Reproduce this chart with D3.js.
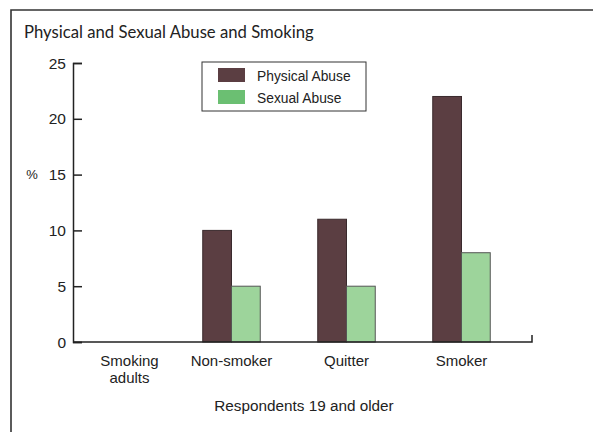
<!DOCTYPE html>
<html>
<head>
<meta charset="utf-8">
<script src="https://cdn.jsdelivr.net/npm/d3@7"></script>
<style>
  html, body { margin: 0; padding: 0; background: #fff; }
  svg { display: block; }
</style>
</head>
<body>
<svg id="chart" width="593" height="432"></svg>
<script>
// Share of respondents (19 and older) reporting abuse, by smoking status
const categories = ["Smoking adults", "Non-smoker", "Quitter", "Smoker"];
const seriesNames = ["Physical Abuse", "Sexual Abuse"];
const physicalAbuse = [null, 10, 11, 22];
const sexualAbuse = [null, 5, 5, 8];
const yTicks = [0, 5, 10, 15, 20, 25];

const barColors = ["#5b3e42", "#9dd49b"];
const legendColors = ["#5b3e42", "#6bbf72"];

const svg = d3.select("#chart");
const axisFont = "'Liberation Sans', Arial, sans-serif";

// outer frame (runs off the right and bottom edges)
svg.append("path")
  .attr("d", "M11,440 L11,10 L600,10")
  .attr("fill", "none")
  .attr("stroke", "#333")
  .attr("stroke-width", 1.6);

svg.append("text")
  .attr("x", 24).attr("y", 38)
  .attr("font-family", "Lato, 'Open Sans', sans-serif")
  .attr("font-size", 16.7)
  .attr("fill", "#222")
  .text("Physical and Sexual Abuse and Smoking");

const x0 = d3.scaleBand().domain(categories).range([59, 519]).paddingInner(0.5).paddingOuter(0.25);
const x1 = d3.scaleBand().domain(seriesNames).range([0, x0.bandwidth()]);
const y = d3.scaleLinear().domain([0, 25]).range([342, 63]);

// y axis with inward ticks
const yAxis = svg.append("g")
  .attr("transform", "translate(73,0)")
  .call(d3.axisRight(y).tickValues(yTicks).tickSize(9).tickFormat(""));
yAxis.select(".domain").attr("stroke", "#222").attr("stroke-width", 1.5);
yAxis.selectAll(".tick line").attr("stroke", "#222").attr("stroke-width", 1.5);

svg.append("g").selectAll("text")
  .data(yTicks).join("text")
  .attr("x", 66).attr("y", d => y(d) + 5.5)
  .attr("text-anchor", "end")
  .attr("font-family", axisFont).attr("font-size", 15.5)
  .attr("fill", "#222")
  .text(d => d);

svg.append("text")
  .attr("x", 32).attr("y", y(15) + 4)
  .attr("text-anchor", "middle")
  .attr("font-family", axisFont).attr("font-size", 13)
  .attr("fill", "#222")
  .text("%");

// bars
const rows = categories.map((c, i) => ({ cat: c, vals: [physicalAbuse[i], sexualAbuse[i]] }));
const groups = svg.append("g").selectAll("g")
  .data(rows).join("g")
  .attr("transform", d => `translate(${x0(d.cat)},0)`);
groups.selectAll("rect")
  .data(d => d.vals.map((v, j) => ({ v, name: seriesNames[j], j })).filter(e => e.v != null))
  .join("rect")
  .attr("x", d => x1(d.name))
  .attr("y", d => y(d.v))
  .attr("width", x1.bandwidth())
  .attr("height", d => y(0) - y(d.v))
  .attr("fill", d => barColors[d.j])
  .attr("stroke", d => d.j === 0 ? "#3a2a2d" : "#555")
  .attr("stroke-width", 1);

// x axis baseline with end tick
svg.append("path")
  .attr("d", `M73,${y(0)} L532,${y(0)} L532,${y(0) - 7}`)
  .attr("fill", "none")
  .attr("stroke", "#222")
  .attr("stroke-width", 1.5);

// category labels
const labelShift = { "Smoking adults": 13 };
svg.append("g").selectAll("text")
  .data(categories).join("text")
  .attr("x", d => x0(d) + x0.bandwidth() / 2 + (labelShift[d] || 0))
  .attr("y", 366)
  .attr("text-anchor", "middle")
  .attr("font-family", axisFont).attr("font-size", 15)
  .attr("fill", "#222")
  .each(function (d) {
    const words = d === "Smoking adults" ? ["Smoking", "adults"] : [d];
    const t = d3.select(this);
    words.forEach((w, k) => {
      t.append("tspan")
        .attr("x", t.attr("x"))
        .attr("dy", k === 0 ? 0 : 17)
        .text(w);
    });
  });

svg.append("text")
  .attr("x", 304).attr("y", 410.5)
  .attr("text-anchor", "middle")
  .attr("font-family", axisFont).attr("font-size", 15.3)
  .attr("fill", "#222")
  .text("Respondents 19 and older");

// legend
const legend = svg.append("g");
legend.append("rect")
  .attr("x", 202).attr("y", 62).attr("width", 164).attr("height", 49)
  .attr("fill", "#fff").attr("stroke", "#333").attr("stroke-width", 1);
seriesNames.forEach((name, i) => {
  legend.append("rect")
    .attr("x", 218).attr("y", 68 + i * 22)
    .attr("width", 27).attr("height", 14)
    .attr("fill", legendColors[i]);
  legend.append("text")
    .attr("x", 257).attr("y", 80.5 + i * 22)
    .attr("font-family", axisFont).attr("font-size", 13.8)
    .attr("fill", "#222")
    .text(name);
});
</script>
</body>
</html>
